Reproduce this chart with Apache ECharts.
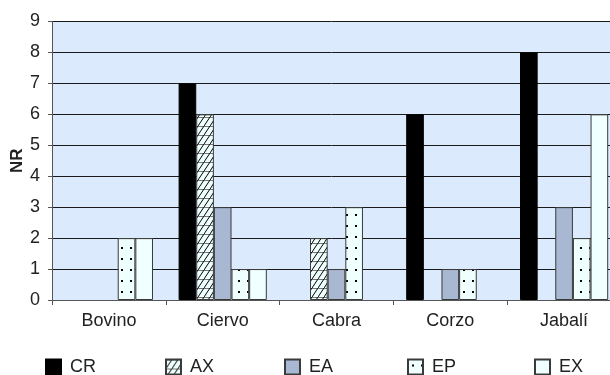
<!DOCTYPE html>
<html><head><meta charset="utf-8">
<script src="https://cdn.jsdelivr.net/npm/echarts@6/dist/echarts.min.js"></script>
<style>html,body{margin:0;padding:0;background:#fff}#c{width:610px;height:375px}</style>
</head><body><div id="c"></div>
<script>
const categories = ['Bovino', 'Ciervo', 'Cabra', 'Corzo', 'Jabalí'];
const seriesNames = ['CR', 'AX', 'EA', 'EP', 'EX'];
const CR = [0, 7, 0, 6, 8];
const AX = [0, 6, 2, 0, 0];
const EA = [0, 3, 1, 1, 3];
const EP = [2, 1, 3, 1, 2];
const EX = [2, 1, 0, 0, 6];
const yMin = 0, yMax = 9, yStep = 1;

const FONT = "'Liberation Sans', Arial, Helvetica, sans-serif";

function hatchTile() {
  const c = document.createElement('canvas');
  c.width = 6; c.height = 9;
  const g = c.getContext('2d');
  g.fillStyle = '#eefffe'; g.fillRect(0, 0, 6, 9);
  g.strokeStyle = '#777'; g.lineWidth = 1;
  g.beginPath(); g.moveTo(0, 0.5); g.lineTo(6, 0.5); g.stroke();
  g.strokeStyle = '#000'; g.lineWidth = 1;
  g.beginPath(); g.moveTo(-1, 10.5); g.lineTo(7, -1.5); g.stroke();
  return c;
}
function dotTile() {
  const c = document.createElement('canvas');
  c.width = 9; c.height = 11;
  const g = c.getContext('2d');
  g.fillStyle = '#eefffe'; g.fillRect(0, 0, 9, 11);
  g.fillStyle = '#000'; g.fillRect(4, 5, 2, 2);
  return c;
}

const fills = {
  CR: '#000000',
  AX: { image: hatchTile(), repeat: 'repeat' },
  EA: '#a9b8d2',
  EP: { image: dotTile(), repeat: 'repeat' },
  EX: '#f0ffff'
};
const values = { CR, AX, EA, EP, EX };
const legendLefts = [45, 165, 284, 407, 534];

const chart = echarts.init(document.getElementById('c'), null, { renderer: 'canvas' });
chart.setOption({
  animation: false,
  textStyle: { fontFamily: FONT },
  grid: { left: 52, right: -11, top: 21.5, bottom: 75, show: true, backgroundColor: '#dbebfd', borderWidth: 0,
          containLabel: false, outerBoundsMode: 'none' },
  legend: seriesNames.map((n, i) => ({
    data: [n], left: legendLefts[i], top: 358, padding: 0, itemWidth: 15, itemHeight: 15,
    icon: 'rect', selectedMode: false,
    textStyle: { fontSize: 18, color: '#222', fontFamily: FONT, padding: [0, 0, 0, 4] }
  })),
  xAxis: {
    type: 'category', data: categories,
    axisLine: { lineStyle: { color: '#555', width: 1 } },
    axisTick: { show: true, length: 5, lineStyle: { color: '#555' } },
    axisLabel: { fontSize: 18, color: '#222', margin: 12, fontFamily: FONT },
    splitLine: { show: false }
  },
  yAxis: {
    type: 'value', min: yMin, max: yMax, interval: yStep,
    name: 'NR', nameLocation: 'middle', nameGap: 26, nameMoveOverlap: false,
    nameTextStyle: { fontSize: 17, fontWeight: 'bold', color: '#222', fontFamily: FONT },
    axisLine: { show: true, lineStyle: { color: '#555' } },
    axisTick: { show: true, length: 4, lineStyle: { color: '#555' } },
    axisLabel: { fontSize: 18, color: '#222', margin: 12, fontFamily: FONT },
    splitLine: { show: true, lineStyle: { color: '#1a1a1a', width: 1 } }
  },
  series: seriesNames.map(n => ({
    name: n, type: 'bar',
    data: values[n].map(v => v === 0 ? null : v),
    barGap: '0%', barCategoryGap: '22.5%',
    itemStyle: { color: fills[n], borderColor: n === 'CR' ? '#000' : '#3a3a3a', borderWidth: 1 }
  }))
});
</script></body></html>
